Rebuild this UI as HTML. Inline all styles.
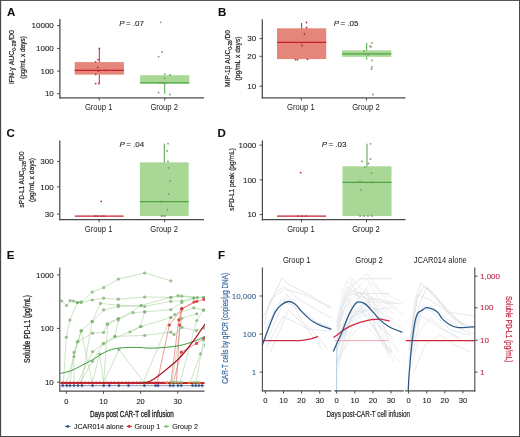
<!DOCTYPE html>
<html><head><meta charset="utf-8"><style>
html,body{margin:0;padding:0;background:#fff;}
svg{display:block;will-change:transform;}
text{font-family:"Liberation Sans", sans-serif;}
</style></head><body>
<svg width="520" height="437" viewBox="0 0 520 437" font-family="&quot;Liberation Sans&quot;, sans-serif">
<rect x="0" y="0" width="520" height="437" fill="#fff"/>
<text x="6.90" y="16.10" font-size="11.5" text-anchor="start" fill="#111" stroke="#111" stroke-width="0.1" font-weight="bold" font-style="normal" >A</text>
<line x1="59.90" y1="19.10" x2="59.90" y2="98.50" stroke="#4a4a4a" stroke-width="1.25" />
<line x1="59.30" y1="97.90" x2="204.00" y2="97.90" stroke="#4a4a4a" stroke-width="1.25" />
<line x1="57.10" y1="25.60" x2="59.90" y2="25.60" stroke="#4a4a4a" stroke-width="1" />
<text x="53.80" y="28.35" font-size="8.0" text-anchor="end" fill="#222" stroke="#222" stroke-width="0.1" font-weight="normal" font-style="normal" >10000</text>
<line x1="57.10" y1="48.40" x2="59.90" y2="48.40" stroke="#4a4a4a" stroke-width="1" />
<text x="53.80" y="51.15" font-size="8.0" text-anchor="end" fill="#222" stroke="#222" stroke-width="0.1" font-weight="normal" font-style="normal" >1000</text>
<line x1="57.10" y1="71.10" x2="59.90" y2="71.10" stroke="#4a4a4a" stroke-width="1" />
<text x="53.80" y="73.85" font-size="8.0" text-anchor="end" fill="#222" stroke="#222" stroke-width="0.1" font-weight="normal" font-style="normal" >100</text>
<line x1="57.10" y1="93.70" x2="59.90" y2="93.70" stroke="#4a4a4a" stroke-width="1" />
<text x="53.80" y="96.45" font-size="8.0" text-anchor="end" fill="#222" stroke="#222" stroke-width="0.1" font-weight="normal" font-style="normal" >10</text>
<line x1="99.20" y1="97.90" x2="99.20" y2="100.50" stroke="#4a4a4a" stroke-width="1" />
<text x="98.70" y="110.10" font-size="8.3" text-anchor="middle" fill="#222" stroke="#222" stroke-width="0" font-weight="normal" font-style="normal" textLength="27.6" lengthAdjust="spacingAndGlyphs" >Group 1</text>
<line x1="164.70" y1="97.90" x2="164.70" y2="100.50" stroke="#4a4a4a" stroke-width="1" />
<text x="164.20" y="110.10" font-size="8.3" text-anchor="middle" fill="#222" stroke="#222" stroke-width="0" font-weight="normal" font-style="normal" textLength="27.6" lengthAdjust="spacingAndGlyphs" >Group 2</text>
<text x="119.20" y="26.00" font-size="8.0" text-anchor="start" fill="#222" stroke="#222" stroke-width="0.1" font-weight="normal" font-style="italic" >P</text>
<text x="125.90" y="26.00" font-size="8.0" text-anchor="start" fill="#222" stroke="#222" stroke-width="0.1" font-weight="normal" font-style="normal" >= .07</text>
<text transform="translate(14.20,57.10) rotate(-90)" x="0" y="0" font-size="8.1" text-anchor="middle" fill="#222" stroke="#222" stroke-width="0.2" textLength="54" lengthAdjust="spacingAndGlyphs">IFN-γ AUC<tspan font-size="5.83" dy="1.6">0-28</tspan><tspan dy="-1.6">/D0</tspan></text>
<text transform="translate(25.00,57.40) rotate(-90)" x="0" y="0" font-size="7.9" text-anchor="middle" fill="#222" stroke="#222" stroke-width="0.2" font-weight="normal" textLength="42.6" lengthAdjust="spacingAndGlyphs">(pg/mL x days)</text>
<line x1="99.30" y1="48.10" x2="99.30" y2="83.80" stroke="#C8232C" stroke-width="1" />
<rect x="74.70" y="62.10" width="49.20" height="12.50" fill="#E4867A"/>
<line x1="74.70" y1="70.30" x2="123.90" y2="70.30" stroke="#C8232C" stroke-width="1.2" />
<circle cx="99.40" cy="48.30" r="0.9" fill="#B8262E" fill-opacity="0.9"/>
<circle cx="98.00" cy="59.60" r="0.9" fill="#B8262E" fill-opacity="0.9"/>
<circle cx="95.60" cy="61.90" r="0.9" fill="#B8262E" fill-opacity="0.9"/>
<circle cx="97.70" cy="67.50" r="0.9" fill="#B8262E" fill-opacity="0.9"/>
<circle cx="98.30" cy="71.10" r="0.9" fill="#B8262E" fill-opacity="0.9"/>
<circle cx="105.80" cy="70.30" r="0.9" fill="#B8262E" fill-opacity="0.9"/>
<circle cx="95.60" cy="74.40" r="0.9" fill="#B8262E" fill-opacity="0.9"/>
<circle cx="95.60" cy="83.60" r="0.9" fill="#B8262E" fill-opacity="0.9"/>
<circle cx="98.80" cy="83.60" r="0.9" fill="#B8262E" fill-opacity="0.9"/>
<line x1="164.70" y1="75.20" x2="164.70" y2="93.80" stroke="#4CA545" stroke-width="1" />
<rect x="140.10" y="75.20" width="49.20" height="8.30" fill="#A9D795"/>
<line x1="140.10" y1="82.90" x2="189.30" y2="82.90" stroke="#4CA545" stroke-width="1.2" />
<circle cx="160.70" cy="22.30" r="0.9" fill="#6f9b62" fill-opacity="0.9"/>
<circle cx="162.00" cy="52.00" r="0.9" fill="#6f9b62" fill-opacity="0.9"/>
<circle cx="158.60" cy="56.70" r="0.9" fill="#6f9b62" fill-opacity="0.9"/>
<circle cx="165.00" cy="73.80" r="0.9" fill="#6f9b62" fill-opacity="0.9"/>
<circle cx="170.00" cy="75.00" r="0.9" fill="#6f9b62" fill-opacity="0.9"/>
<circle cx="164.50" cy="78.30" r="0.9" fill="#6f9b62" fill-opacity="0.9"/>
<circle cx="158.60" cy="92.50" r="0.9" fill="#6f9b62" fill-opacity="0.9"/>
<circle cx="170.00" cy="94.50" r="0.9" fill="#6f9b62" fill-opacity="0.9"/>
<circle cx="160.00" cy="83.00" r="0.9" fill="#6f9b62" fill-opacity="0.9"/>
<circle cx="163.00" cy="83.00" r="0.9" fill="#6f9b62" fill-opacity="0.9"/>
<circle cx="166.00" cy="83.00" r="0.9" fill="#6f9b62" fill-opacity="0.9"/>
<text x="218.10" y="16.00" font-size="11.5" text-anchor="start" fill="#111" stroke="#111" stroke-width="0.1" font-weight="bold" font-style="normal" >B</text>
<line x1="262.30" y1="19.20" x2="262.30" y2="98.50" stroke="#4a4a4a" stroke-width="1.25" />
<line x1="261.70" y1="97.90" x2="405.50" y2="97.90" stroke="#4a4a4a" stroke-width="1.25" />
<line x1="259.50" y1="38.60" x2="262.30" y2="38.60" stroke="#4a4a4a" stroke-width="1" />
<text x="256.20" y="41.35" font-size="8.0" text-anchor="end" fill="#222" stroke="#222" stroke-width="0.1" font-weight="normal" font-style="normal" >30</text>
<line x1="259.50" y1="56.30" x2="262.30" y2="56.30" stroke="#4a4a4a" stroke-width="1" />
<text x="256.20" y="59.05" font-size="8.0" text-anchor="end" fill="#222" stroke="#222" stroke-width="0.1" font-weight="normal" font-style="normal" >20</text>
<line x1="259.50" y1="86.20" x2="262.30" y2="86.20" stroke="#4a4a4a" stroke-width="1" />
<text x="256.20" y="88.95" font-size="8.0" text-anchor="end" fill="#222" stroke="#222" stroke-width="0.1" font-weight="normal" font-style="normal" >10</text>
<line x1="301.35" y1="97.90" x2="301.35" y2="100.50" stroke="#4a4a4a" stroke-width="1" />
<text x="300.85" y="110.10" font-size="8.3" text-anchor="middle" fill="#222" stroke="#222" stroke-width="0" font-weight="normal" font-style="normal" textLength="27.6" lengthAdjust="spacingAndGlyphs" >Group 1</text>
<line x1="366.45" y1="97.90" x2="366.45" y2="100.50" stroke="#4a4a4a" stroke-width="1" />
<text x="365.95" y="110.10" font-size="8.3" text-anchor="middle" fill="#222" stroke="#222" stroke-width="0" font-weight="normal" font-style="normal" textLength="27.6" lengthAdjust="spacingAndGlyphs" >Group 2</text>
<text x="333.80" y="26.10" font-size="8.0" text-anchor="start" fill="#222" stroke="#222" stroke-width="0.1" font-weight="normal" font-style="italic" >P</text>
<text x="340.50" y="26.10" font-size="8.0" text-anchor="start" fill="#222" stroke="#222" stroke-width="0.1" font-weight="normal" font-style="normal" >= .05</text>
<text transform="translate(229.90,58.50) rotate(-90)" x="0" y="0" font-size="8.1" text-anchor="middle" fill="#222" stroke="#222" stroke-width="0.2" textLength="57" lengthAdjust="spacingAndGlyphs">MIP-1β AUC<tspan font-size="5.83" dy="1.6">0-28</tspan><tspan dy="-1.6">/D0</tspan></text>
<text transform="translate(240.30,58.50) rotate(-90)" x="0" y="0" font-size="7.9" text-anchor="middle" fill="#222" stroke="#222" stroke-width="0.2" font-weight="normal" textLength="44" lengthAdjust="spacingAndGlyphs">(pg/mL x days)</text>
<line x1="301.60" y1="23.00" x2="301.60" y2="59.10" stroke="#C8232C" stroke-width="1" />
<rect x="277.00" y="28.30" width="49.20" height="30.80" fill="#E4867A"/>
<line x1="277.00" y1="42.40" x2="326.20" y2="42.40" stroke="#C8232C" stroke-width="1.2" />
<circle cx="306.50" cy="22.50" r="0.9" fill="#B8262E" fill-opacity="0.9"/>
<circle cx="306.50" cy="27.50" r="0.9" fill="#B8262E" fill-opacity="0.9"/>
<circle cx="304.50" cy="34.00" r="0.9" fill="#B8262E" fill-opacity="0.9"/>
<circle cx="301.70" cy="42.80" r="0.9" fill="#B8262E" fill-opacity="0.9"/>
<circle cx="302.00" cy="45.70" r="0.9" fill="#B8262E" fill-opacity="0.9"/>
<circle cx="295.50" cy="59.70" r="0.9" fill="#B8262E" fill-opacity="0.9"/>
<circle cx="297.50" cy="59.70" r="0.9" fill="#B8262E" fill-opacity="0.9"/>
<circle cx="307.50" cy="59.30" r="0.9" fill="#B8262E" fill-opacity="0.9"/>
<line x1="366.70" y1="42.90" x2="366.70" y2="59.60" stroke="#4CA545" stroke-width="1" />
<rect x="342.10" y="50.40" width="49.20" height="6.40" fill="#A9D795"/>
<line x1="342.10" y1="53.90" x2="391.30" y2="53.90" stroke="#4CA545" stroke-width="1.2" />
<circle cx="372.00" cy="43.00" r="0.9" fill="#6f9b62" fill-opacity="0.9"/>
<circle cx="370.00" cy="46.00" r="0.9" fill="#6f9b62" fill-opacity="0.9"/>
<circle cx="371.00" cy="47.00" r="0.9" fill="#6f9b62" fill-opacity="0.9"/>
<circle cx="364.00" cy="51.00" r="0.9" fill="#6f9b62" fill-opacity="0.9"/>
<circle cx="365.00" cy="54.00" r="0.9" fill="#6f9b62" fill-opacity="0.9"/>
<circle cx="368.00" cy="55.00" r="0.9" fill="#6f9b62" fill-opacity="0.9"/>
<circle cx="372.00" cy="60.50" r="0.9" fill="#6f9b62" fill-opacity="0.9"/>
<circle cx="371.50" cy="69.00" r="0.9" fill="#6f9b62" fill-opacity="0.9"/>
<circle cx="372.00" cy="67.00" r="0.9" fill="#6f9b62" fill-opacity="0.9"/>
<circle cx="373.00" cy="94.50" r="0.9" fill="#6f9b62" fill-opacity="0.9"/>
<text x="6.40" y="137.20" font-size="11.5" text-anchor="start" fill="#111" stroke="#111" stroke-width="0.1" font-weight="bold" font-style="normal" >C</text>
<line x1="59.80" y1="140.40" x2="59.80" y2="220.20" stroke="#4a4a4a" stroke-width="1.25" />
<line x1="59.20" y1="219.60" x2="204.00" y2="219.60" stroke="#4a4a4a" stroke-width="1.25" />
<line x1="57.00" y1="161.40" x2="59.80" y2="161.40" stroke="#4a4a4a" stroke-width="1" />
<text x="53.70" y="164.15" font-size="8.0" text-anchor="end" fill="#222" stroke="#222" stroke-width="0.1" font-weight="normal" font-style="normal" >300</text>
<line x1="57.00" y1="186.90" x2="59.80" y2="186.90" stroke="#4a4a4a" stroke-width="1" />
<text x="53.70" y="189.65" font-size="8.0" text-anchor="end" fill="#222" stroke="#222" stroke-width="0.1" font-weight="normal" font-style="normal" >100</text>
<line x1="57.00" y1="214.10" x2="59.80" y2="214.10" stroke="#4a4a4a" stroke-width="1" />
<text x="53.70" y="216.85" font-size="8.0" text-anchor="end" fill="#222" stroke="#222" stroke-width="0.1" font-weight="normal" font-style="normal" >30</text>
<line x1="99.13" y1="219.60" x2="99.13" y2="222.20" stroke="#4a4a4a" stroke-width="1" />
<text x="98.63" y="231.80" font-size="8.3" text-anchor="middle" fill="#222" stroke="#222" stroke-width="0" font-weight="normal" font-style="normal" textLength="27.6" lengthAdjust="spacingAndGlyphs" >Group 1</text>
<line x1="164.67" y1="219.60" x2="164.67" y2="222.20" stroke="#4a4a4a" stroke-width="1" />
<text x="164.17" y="231.80" font-size="8.3" text-anchor="middle" fill="#222" stroke="#222" stroke-width="0" font-weight="normal" font-style="normal" textLength="27.6" lengthAdjust="spacingAndGlyphs" >Group 2</text>
<text x="119.50" y="147.30" font-size="8.0" text-anchor="start" fill="#222" stroke="#222" stroke-width="0.1" font-weight="normal" font-style="italic" >P</text>
<text x="126.20" y="147.30" font-size="8.0" text-anchor="start" fill="#222" stroke="#222" stroke-width="0.1" font-weight="normal" font-style="normal" >= .04</text>
<text transform="translate(24.00,179.40) rotate(-90)" x="0" y="0" font-size="8.1" text-anchor="middle" fill="#222" stroke="#222" stroke-width="0.2" textLength="56" lengthAdjust="spacingAndGlyphs">sPD-L1 AUC<tspan font-size="5.83" dy="1.6">0-28</tspan><tspan dy="-1.6">/D0</tspan></text>
<text transform="translate(33.80,179.90) rotate(-90)" x="0" y="0" font-size="7.9" text-anchor="middle" fill="#222" stroke="#222" stroke-width="0.2" font-weight="normal" textLength="44" lengthAdjust="spacingAndGlyphs">(pg/mL x days)</text>
<line x1="74.80" y1="216.10" x2="123.60" y2="216.10" stroke="#C8232C" stroke-width="1.2" />
<circle cx="101.20" cy="201.30" r="0.9" fill="#B8262E" fill-opacity="0.9"/>
<circle cx="95.00" cy="216.10" r="0.9" fill="#B8262E" fill-opacity="0.9"/>
<circle cx="97.50" cy="216.10" r="0.9" fill="#B8262E" fill-opacity="0.9"/>
<circle cx="101.50" cy="216.10" r="0.9" fill="#B8262E" fill-opacity="0.9"/>
<circle cx="104.00" cy="216.10" r="0.9" fill="#B8262E" fill-opacity="0.9"/>
<line x1="164.30" y1="143.70" x2="164.30" y2="216.10" stroke="#4CA545" stroke-width="1" />
<rect x="139.90" y="162.40" width="48.80" height="53.70" fill="#A9D795"/>
<line x1="139.90" y1="201.70" x2="188.70" y2="201.70" stroke="#4CA545" stroke-width="1.2" />
<circle cx="168.00" cy="143.70" r="0.9" fill="#6f9b62" fill-opacity="0.9"/>
<circle cx="167.00" cy="151.00" r="0.9" fill="#6f9b62" fill-opacity="0.9"/>
<circle cx="168.00" cy="161.50" r="0.9" fill="#6f9b62" fill-opacity="0.9"/>
<circle cx="168.50" cy="168.00" r="0.9" fill="#6f9b62" fill-opacity="0.9"/>
<circle cx="170.00" cy="181.00" r="0.9" fill="#6f9b62" fill-opacity="0.9"/>
<circle cx="168.50" cy="194.00" r="0.9" fill="#6f9b62" fill-opacity="0.9"/>
<circle cx="161.00" cy="201.50" r="0.9" fill="#6f9b62" fill-opacity="0.9"/>
<circle cx="167.50" cy="210.00" r="0.9" fill="#6f9b62" fill-opacity="0.9"/>
<circle cx="161.50" cy="216.00" r="0.9" fill="#6f9b62" fill-opacity="0.9"/>
<circle cx="165.00" cy="216.00" r="0.9" fill="#6f9b62" fill-opacity="0.9"/>
<circle cx="163.00" cy="216.00" r="0.9" fill="#6f9b62" fill-opacity="0.9"/>
<text x="217.50" y="137.10" font-size="11.5" text-anchor="start" fill="#111" stroke="#111" stroke-width="0.1" font-weight="bold" font-style="normal" >D</text>
<line x1="262.40" y1="140.50" x2="262.40" y2="220.30" stroke="#4a4a4a" stroke-width="1.25" />
<line x1="261.80" y1="219.70" x2="405.50" y2="219.70" stroke="#4a4a4a" stroke-width="1.25" />
<line x1="259.60" y1="145.10" x2="262.40" y2="145.10" stroke="#4a4a4a" stroke-width="1" />
<text x="256.30" y="147.85" font-size="8.0" text-anchor="end" fill="#222" stroke="#222" stroke-width="0.1" font-weight="normal" font-style="normal" >1000</text>
<line x1="259.60" y1="179.80" x2="262.40" y2="179.80" stroke="#4a4a4a" stroke-width="1" />
<text x="256.30" y="182.55" font-size="8.0" text-anchor="end" fill="#222" stroke="#222" stroke-width="0.1" font-weight="normal" font-style="normal" >100</text>
<line x1="259.60" y1="214.60" x2="262.40" y2="214.60" stroke="#4a4a4a" stroke-width="1" />
<text x="256.30" y="217.35" font-size="8.0" text-anchor="end" fill="#222" stroke="#222" stroke-width="0.1" font-weight="normal" font-style="normal" >10</text>
<line x1="301.43" y1="219.70" x2="301.43" y2="222.30" stroke="#4a4a4a" stroke-width="1" />
<text x="300.93" y="231.90" font-size="8.3" text-anchor="middle" fill="#222" stroke="#222" stroke-width="0" font-weight="normal" font-style="normal" textLength="27.6" lengthAdjust="spacingAndGlyphs" >Group 1</text>
<line x1="366.47" y1="219.70" x2="366.47" y2="222.30" stroke="#4a4a4a" stroke-width="1" />
<text x="365.97" y="231.90" font-size="8.3" text-anchor="middle" fill="#222" stroke="#222" stroke-width="0" font-weight="normal" font-style="normal" textLength="27.6" lengthAdjust="spacingAndGlyphs" >Group 2</text>
<text x="321.70" y="147.40" font-size="8.0" text-anchor="start" fill="#222" stroke="#222" stroke-width="0.1" font-weight="normal" font-style="italic" >P</text>
<text x="328.40" y="147.40" font-size="8.0" text-anchor="start" fill="#222" stroke="#222" stroke-width="0.1" font-weight="normal" font-style="normal" >= .03</text>
<text transform="translate(233.60,179.40) rotate(-90)" x="0" y="0" font-size="8.1" text-anchor="middle" fill="#222" stroke="#222" stroke-width="0.2" font-weight="normal" textLength="62.5" lengthAdjust="spacingAndGlyphs">sPD-L1 peak (pg/mL)</text>
<line x1="277.00" y1="216.10" x2="326.20" y2="216.10" stroke="#C8232C" stroke-width="1.2" />
<circle cx="300.70" cy="172.70" r="0.9" fill="#B8262E" fill-opacity="0.9"/>
<circle cx="298.00" cy="216.10" r="0.9" fill="#B8262E" fill-opacity="0.9"/>
<circle cx="302.00" cy="216.10" r="0.9" fill="#B8262E" fill-opacity="0.9"/>
<circle cx="306.00" cy="216.10" r="0.9" fill="#B8262E" fill-opacity="0.9"/>
<line x1="367.00" y1="143.70" x2="367.00" y2="216.10" stroke="#4CA545" stroke-width="1" />
<rect x="342.50" y="166.30" width="49.00" height="49.80" fill="#A9D795"/>
<line x1="342.50" y1="182.30" x2="391.50" y2="182.30" stroke="#4CA545" stroke-width="1.2" />
<circle cx="370.50" cy="143.80" r="0.9" fill="#6f9b62" fill-opacity="0.9"/>
<circle cx="362.00" cy="161.50" r="0.9" fill="#6f9b62" fill-opacity="0.9"/>
<circle cx="370.50" cy="159.00" r="0.9" fill="#6f9b62" fill-opacity="0.9"/>
<circle cx="368.50" cy="163.50" r="0.9" fill="#6f9b62" fill-opacity="0.9"/>
<circle cx="365.00" cy="167.50" r="0.9" fill="#6f9b62" fill-opacity="0.9"/>
<circle cx="371.50" cy="173.00" r="0.9" fill="#6f9b62" fill-opacity="0.9"/>
<circle cx="360.00" cy="181.50" r="0.9" fill="#6f9b62" fill-opacity="0.9"/>
<circle cx="372.00" cy="182.50" r="0.9" fill="#6f9b62" fill-opacity="0.9"/>
<circle cx="361.00" cy="190.00" r="0.9" fill="#6f9b62" fill-opacity="0.9"/>
<circle cx="360.00" cy="216.00" r="0.9" fill="#6f9b62" fill-opacity="0.9"/>
<circle cx="364.00" cy="216.00" r="0.9" fill="#6f9b62" fill-opacity="0.9"/>
<circle cx="368.00" cy="216.00" r="0.9" fill="#6f9b62" fill-opacity="0.9"/>
<circle cx="372.00" cy="216.00" r="0.9" fill="#6f9b62" fill-opacity="0.9"/>
<text x="6.80" y="258.90" font-size="11.5" text-anchor="start" fill="#111" stroke="#111" stroke-width="0.1" font-weight="bold" font-style="normal" >E</text>
<line x1="57.00" y1="274.90" x2="59.80" y2="274.90" stroke="#4a4a4a" stroke-width="1" />
<text x="53.80" y="277.65" font-size="8.0" text-anchor="end" fill="#222" stroke="#222" stroke-width="0.1" font-weight="normal" font-style="normal" >1000</text>
<line x1="57.00" y1="328.40" x2="59.80" y2="328.40" stroke="#4a4a4a" stroke-width="1" />
<text x="53.80" y="331.15" font-size="8.0" text-anchor="end" fill="#222" stroke="#222" stroke-width="0.1" font-weight="normal" font-style="normal" >100</text>
<line x1="57.00" y1="382.20" x2="59.80" y2="382.20" stroke="#4a4a4a" stroke-width="1" />
<text x="53.80" y="384.95" font-size="8.0" text-anchor="end" fill="#222" stroke="#222" stroke-width="0.1" font-weight="normal" font-style="normal" >10</text>
<line x1="66.40" y1="391.10" x2="66.40" y2="393.70" stroke="#4a4a4a" stroke-width="1" />
<text x="66.40" y="403.80" font-size="7.5" text-anchor="middle" fill="#222" stroke="#222" stroke-width="0.1" font-weight="normal" font-style="normal" >0</text>
<line x1="103.50" y1="391.10" x2="103.50" y2="393.70" stroke="#4a4a4a" stroke-width="1" />
<text x="103.50" y="403.80" font-size="7.5" text-anchor="middle" fill="#222" stroke="#222" stroke-width="0.1" font-weight="normal" font-style="normal" >10</text>
<line x1="140.60" y1="391.10" x2="140.60" y2="393.70" stroke="#4a4a4a" stroke-width="1" />
<text x="140.60" y="403.80" font-size="7.5" text-anchor="middle" fill="#222" stroke="#222" stroke-width="0.1" font-weight="normal" font-style="normal" >20</text>
<line x1="177.70" y1="391.10" x2="177.70" y2="393.70" stroke="#4a4a4a" stroke-width="1" />
<text x="177.70" y="403.80" font-size="7.5" text-anchor="middle" fill="#222" stroke="#222" stroke-width="0.1" font-weight="normal" font-style="normal" >30</text>
<text x="131.90" y="416.60" font-size="9.0" text-anchor="middle" fill="#222" stroke="#222" stroke-width="0.32" font-weight="normal" font-style="normal" textLength="84.0" lengthAdjust="spacingAndGlyphs" >Days post CAR-T cell infusion</text>
<text transform="translate(29.90,329.00) rotate(-90)" x="0" y="0" font-size="8.6" text-anchor="middle" fill="#222" stroke="#222" stroke-width="0.25" font-weight="normal" textLength="68.0" lengthAdjust="spacingAndGlyphs">Soluble PD-L1 (pg/mL)</text>
<clipPath id="cpE"><rect x="60.3" y="267.4" width="144.7" height="123.10000000000005"/></clipPath>
<g clip-path="url(#cpE)">
<polyline points="77.30,302.50 81.10,302.20 92.20,292.10 103.70,287.70 118.30,279.10 144.70,273.00 170.80,280.80" fill="none" stroke="#9fcc92" stroke-width="0.7" stroke-opacity="0.75" stroke-linejoin="round" stroke-linecap="round" />
<polyline points="59.00,300.50 61.70,301.00 66.60,305.50 70.20,300.70 73.60,301.00 77.30,302.50 81.10,302.20 92.20,300.00 103.70,298.20 118.30,299.20 144.70,297.00 170.80,297.30 181.80,296.20 193.80,298.00 203.50,297.50" fill="none" stroke="#9fcc92" stroke-width="0.7" stroke-opacity="0.75" stroke-linejoin="round" stroke-linecap="round" />
<polyline points="63.50,382.60 66.30,337.20 69.90,320.00 77.30,302.50" fill="none" stroke="#9fcc92" stroke-width="0.7" stroke-opacity="0.75" stroke-linejoin="round" stroke-linecap="round" />
<polyline points="81.50,382.60 92.20,321.50 100.40,303.40 118.30,305.20 144.70,306.50 170.80,301.30 181.80,301.00 197.50,297.70" fill="none" stroke="#9fcc92" stroke-width="0.7" stroke-opacity="0.75" stroke-linejoin="round" stroke-linecap="round" />
<polyline points="92.20,321.50 103.70,309.90 118.30,306.60 141.20,305.50 170.80,297.30 178.00,295.70 203.50,297.50" fill="none" stroke="#9fcc92" stroke-width="0.7" stroke-opacity="0.75" stroke-linejoin="round" stroke-linecap="round" />
<polyline points="74.00,382.60 74.00,356.50 77.20,342.00 92.50,333.20 103.70,332.40 107.10,323.80 118.30,318.50 133.00,312.60 144.70,311.80 170.80,309.70 181.80,302.50 193.80,298.00" fill="none" stroke="#9fcc92" stroke-width="0.7" stroke-opacity="0.75" stroke-linejoin="round" stroke-linecap="round" />
<polyline points="70.00,382.60 74.00,352.40 78.00,341.20 81.20,330.80 92.20,321.50" fill="none" stroke="#9fcc92" stroke-width="0.7" stroke-opacity="0.75" stroke-linejoin="round" stroke-linecap="round" />
<polyline points="78.00,382.60 92.50,351.60 103.70,343.60 114.90,336.40 118.30,320.00 141.20,305.50" fill="none" stroke="#9fcc92" stroke-width="0.7" stroke-opacity="0.75" stroke-linejoin="round" stroke-linecap="round" />
<polyline points="80.00,382.60 92.50,361.30 103.40,343.50 141.20,326.50 170.80,317.50 174.70,314.50 193.80,307.80 203.50,310.00" fill="none" stroke="#9fcc92" stroke-width="0.7" stroke-opacity="0.75" stroke-linejoin="round" stroke-linecap="round" />
<polyline points="81.20,330.80 92.20,382.60 99.70,354.00 103.70,382.60 118.90,349.60 144.30,382.60" fill="none" stroke="#9fcc92" stroke-width="0.7" stroke-opacity="0.75" stroke-linejoin="round" stroke-linecap="round" />
<polyline points="103.70,382.60 107.70,324.40 118.30,318.50" fill="none" stroke="#9fcc92" stroke-width="0.7" stroke-opacity="0.75" stroke-linejoin="round" stroke-linecap="round" />
<polyline points="143.00,382.60 170.80,317.50" fill="none" stroke="#9fcc92" stroke-width="0.7" stroke-opacity="0.75" stroke-linejoin="round" stroke-linecap="round" />
<polyline points="172.00,382.60 181.80,318.30 196.80,313.80" fill="none" stroke="#9fcc92" stroke-width="0.7" stroke-opacity="0.75" stroke-linejoin="round" stroke-linecap="round" />
<polyline points="180.00,382.60 196.80,320.50 203.50,310.00" fill="none" stroke="#9fcc92" stroke-width="0.7" stroke-opacity="0.75" stroke-linejoin="round" stroke-linecap="round" />
<polyline points="190.00,382.60 200.50,353.80 205.00,345.00" fill="none" stroke="#9fcc92" stroke-width="0.7" stroke-opacity="0.75" stroke-linejoin="round" stroke-linecap="round" />
<polyline points="196.00,382.60 203.50,340.00" fill="none" stroke="#9fcc92" stroke-width="0.7" stroke-opacity="0.75" stroke-linejoin="round" stroke-linecap="round" />
<polyline points="114.90,336.40 144.70,335.40 170.90,332.20 174.00,334.60 182.00,327.40 196.50,330.60 204.00,328.00" fill="none" stroke="#9fcc92" stroke-width="0.7" stroke-opacity="0.75" stroke-linejoin="round" stroke-linecap="round" />
<polyline points="130.00,332.00 140.40,326.60 144.70,311.80" fill="none" stroke="#9fcc92" stroke-width="0.7" stroke-opacity="0.75" stroke-linejoin="round" stroke-linecap="round" />
<polyline points="66.40,382.60 81.20,330.80" fill="none" stroke="#9fcc92" stroke-width="0.7" stroke-opacity="0.75" stroke-linejoin="round" stroke-linecap="round" />
<polyline points="157.20,382.60 169.30,325.00 181.80,308.80 196.80,301.30 204.00,299.50" fill="none" stroke="#e0645f" stroke-width="0.75" stroke-opacity="0.85" stroke-linejoin="round" stroke-linecap="round" />
<polyline points="170.90,382.60 178.80,319.80 181.80,308.80" fill="none" stroke="#e0645f" stroke-width="0.75" stroke-opacity="0.85" stroke-linejoin="round" stroke-linecap="round" />
<polyline points="176.50,382.60 179.70,325.00 181.80,308.80 194.00,302.00" fill="none" stroke="#e0645f" stroke-width="0.75" stroke-opacity="0.85" stroke-linejoin="round" stroke-linecap="round" />
<polyline points="173.30,382.60 181.30,352.20 196.50,343.40 204.00,338.00" fill="none" stroke="#e0645f" stroke-width="0.75" stroke-opacity="0.85" stroke-linejoin="round" stroke-linecap="round" />
<circle cx="77.30" cy="302.50" r="1.6" fill="#82b277" fill-opacity="0.78"/>
<circle cx="81.10" cy="302.20" r="1.6" fill="#82b277" fill-opacity="0.78"/>
<circle cx="92.20" cy="292.10" r="1.6" fill="#82b277" fill-opacity="0.78"/>
<circle cx="103.70" cy="287.70" r="1.6" fill="#82b277" fill-opacity="0.78"/>
<circle cx="118.30" cy="279.10" r="1.6" fill="#82b277" fill-opacity="0.78"/>
<circle cx="144.70" cy="273.00" r="1.6" fill="#82b277" fill-opacity="0.78"/>
<circle cx="170.80" cy="280.80" r="1.6" fill="#82b277" fill-opacity="0.78"/>
<circle cx="59.00" cy="300.50" r="1.6" fill="#82b277" fill-opacity="0.78"/>
<circle cx="61.70" cy="301.00" r="1.6" fill="#82b277" fill-opacity="0.78"/>
<circle cx="66.60" cy="305.50" r="1.6" fill="#82b277" fill-opacity="0.78"/>
<circle cx="70.20" cy="300.70" r="1.6" fill="#82b277" fill-opacity="0.78"/>
<circle cx="73.60" cy="301.00" r="1.6" fill="#82b277" fill-opacity="0.78"/>
<circle cx="77.30" cy="302.50" r="1.6" fill="#82b277" fill-opacity="0.78"/>
<circle cx="81.10" cy="302.20" r="1.6" fill="#82b277" fill-opacity="0.78"/>
<circle cx="92.20" cy="300.00" r="1.6" fill="#82b277" fill-opacity="0.78"/>
<circle cx="103.70" cy="298.20" r="1.6" fill="#82b277" fill-opacity="0.78"/>
<circle cx="118.30" cy="299.20" r="1.6" fill="#82b277" fill-opacity="0.78"/>
<circle cx="144.70" cy="297.00" r="1.6" fill="#82b277" fill-opacity="0.78"/>
<circle cx="170.80" cy="297.30" r="1.6" fill="#82b277" fill-opacity="0.78"/>
<circle cx="181.80" cy="296.20" r="1.6" fill="#82b277" fill-opacity="0.78"/>
<circle cx="193.80" cy="298.00" r="1.6" fill="#82b277" fill-opacity="0.78"/>
<circle cx="203.50" cy="297.50" r="1.6" fill="#82b277" fill-opacity="0.78"/>
<circle cx="66.30" cy="337.20" r="1.6" fill="#82b277" fill-opacity="0.78"/>
<circle cx="69.90" cy="320.00" r="1.6" fill="#82b277" fill-opacity="0.78"/>
<circle cx="77.30" cy="302.50" r="1.6" fill="#82b277" fill-opacity="0.78"/>
<circle cx="92.20" cy="321.50" r="1.6" fill="#82b277" fill-opacity="0.78"/>
<circle cx="100.40" cy="303.40" r="1.6" fill="#82b277" fill-opacity="0.78"/>
<circle cx="118.30" cy="305.20" r="1.6" fill="#82b277" fill-opacity="0.78"/>
<circle cx="144.70" cy="306.50" r="1.6" fill="#82b277" fill-opacity="0.78"/>
<circle cx="170.80" cy="301.30" r="1.6" fill="#82b277" fill-opacity="0.78"/>
<circle cx="181.80" cy="301.00" r="1.6" fill="#82b277" fill-opacity="0.78"/>
<circle cx="197.50" cy="297.70" r="1.6" fill="#82b277" fill-opacity="0.78"/>
<circle cx="92.20" cy="321.50" r="1.6" fill="#82b277" fill-opacity="0.78"/>
<circle cx="103.70" cy="309.90" r="1.6" fill="#82b277" fill-opacity="0.78"/>
<circle cx="118.30" cy="306.60" r="1.6" fill="#82b277" fill-opacity="0.78"/>
<circle cx="141.20" cy="305.50" r="1.6" fill="#82b277" fill-opacity="0.78"/>
<circle cx="170.80" cy="297.30" r="1.6" fill="#82b277" fill-opacity="0.78"/>
<circle cx="178.00" cy="295.70" r="1.6" fill="#82b277" fill-opacity="0.78"/>
<circle cx="203.50" cy="297.50" r="1.6" fill="#82b277" fill-opacity="0.78"/>
<circle cx="74.00" cy="356.50" r="1.6" fill="#82b277" fill-opacity="0.78"/>
<circle cx="77.20" cy="342.00" r="1.6" fill="#82b277" fill-opacity="0.78"/>
<circle cx="92.50" cy="333.20" r="1.6" fill="#82b277" fill-opacity="0.78"/>
<circle cx="103.70" cy="332.40" r="1.6" fill="#82b277" fill-opacity="0.78"/>
<circle cx="107.10" cy="323.80" r="1.6" fill="#82b277" fill-opacity="0.78"/>
<circle cx="118.30" cy="318.50" r="1.6" fill="#82b277" fill-opacity="0.78"/>
<circle cx="133.00" cy="312.60" r="1.6" fill="#82b277" fill-opacity="0.78"/>
<circle cx="144.70" cy="311.80" r="1.6" fill="#82b277" fill-opacity="0.78"/>
<circle cx="170.80" cy="309.70" r="1.6" fill="#82b277" fill-opacity="0.78"/>
<circle cx="181.80" cy="302.50" r="1.6" fill="#82b277" fill-opacity="0.78"/>
<circle cx="193.80" cy="298.00" r="1.6" fill="#82b277" fill-opacity="0.78"/>
<circle cx="74.00" cy="352.40" r="1.6" fill="#82b277" fill-opacity="0.78"/>
<circle cx="78.00" cy="341.20" r="1.6" fill="#82b277" fill-opacity="0.78"/>
<circle cx="81.20" cy="330.80" r="1.6" fill="#82b277" fill-opacity="0.78"/>
<circle cx="92.20" cy="321.50" r="1.6" fill="#82b277" fill-opacity="0.78"/>
<circle cx="92.50" cy="351.60" r="1.6" fill="#82b277" fill-opacity="0.78"/>
<circle cx="103.70" cy="343.60" r="1.6" fill="#82b277" fill-opacity="0.78"/>
<circle cx="114.90" cy="336.40" r="1.6" fill="#82b277" fill-opacity="0.78"/>
<circle cx="118.30" cy="320.00" r="1.6" fill="#82b277" fill-opacity="0.78"/>
<circle cx="141.20" cy="305.50" r="1.6" fill="#82b277" fill-opacity="0.78"/>
<circle cx="92.50" cy="361.30" r="1.6" fill="#82b277" fill-opacity="0.78"/>
<circle cx="103.40" cy="343.50" r="1.6" fill="#82b277" fill-opacity="0.78"/>
<circle cx="141.20" cy="326.50" r="1.6" fill="#82b277" fill-opacity="0.78"/>
<circle cx="170.80" cy="317.50" r="1.6" fill="#82b277" fill-opacity="0.78"/>
<circle cx="174.70" cy="314.50" r="1.6" fill="#82b277" fill-opacity="0.78"/>
<circle cx="193.80" cy="307.80" r="1.6" fill="#82b277" fill-opacity="0.78"/>
<circle cx="203.50" cy="310.00" r="1.6" fill="#82b277" fill-opacity="0.78"/>
<circle cx="81.20" cy="330.80" r="1.6" fill="#82b277" fill-opacity="0.78"/>
<circle cx="99.70" cy="354.00" r="1.6" fill="#82b277" fill-opacity="0.78"/>
<circle cx="118.90" cy="349.60" r="1.6" fill="#82b277" fill-opacity="0.78"/>
<circle cx="107.70" cy="324.40" r="1.6" fill="#82b277" fill-opacity="0.78"/>
<circle cx="118.30" cy="318.50" r="1.6" fill="#82b277" fill-opacity="0.78"/>
<circle cx="170.80" cy="317.50" r="1.6" fill="#82b277" fill-opacity="0.78"/>
<circle cx="181.80" cy="318.30" r="1.6" fill="#82b277" fill-opacity="0.78"/>
<circle cx="196.80" cy="313.80" r="1.6" fill="#82b277" fill-opacity="0.78"/>
<circle cx="196.80" cy="320.50" r="1.6" fill="#82b277" fill-opacity="0.78"/>
<circle cx="203.50" cy="310.00" r="1.6" fill="#82b277" fill-opacity="0.78"/>
<circle cx="200.50" cy="353.80" r="1.6" fill="#82b277" fill-opacity="0.78"/>
<circle cx="205.00" cy="345.00" r="1.6" fill="#82b277" fill-opacity="0.78"/>
<circle cx="203.50" cy="340.00" r="1.6" fill="#82b277" fill-opacity="0.78"/>
<circle cx="114.90" cy="336.40" r="1.6" fill="#82b277" fill-opacity="0.78"/>
<circle cx="144.70" cy="335.40" r="1.6" fill="#82b277" fill-opacity="0.78"/>
<circle cx="170.90" cy="332.20" r="1.6" fill="#82b277" fill-opacity="0.78"/>
<circle cx="174.00" cy="334.60" r="1.6" fill="#82b277" fill-opacity="0.78"/>
<circle cx="182.00" cy="327.40" r="1.6" fill="#82b277" fill-opacity="0.78"/>
<circle cx="196.50" cy="330.60" r="1.6" fill="#82b277" fill-opacity="0.78"/>
<circle cx="204.00" cy="328.00" r="1.6" fill="#82b277" fill-opacity="0.78"/>
<circle cx="130.00" cy="332.00" r="1.6" fill="#82b277" fill-opacity="0.78"/>
<circle cx="140.40" cy="326.60" r="1.6" fill="#82b277" fill-opacity="0.78"/>
<circle cx="144.70" cy="311.80" r="1.6" fill="#82b277" fill-opacity="0.78"/>
<circle cx="81.20" cy="330.80" r="1.6" fill="#82b277" fill-opacity="0.78"/>
<circle cx="169.30" cy="325.00" r="1.6" fill="#d43a3a" fill-opacity="0.9"/>
<circle cx="181.80" cy="308.80" r="1.6" fill="#d43a3a" fill-opacity="0.9"/>
<circle cx="196.80" cy="301.30" r="1.6" fill="#d43a3a" fill-opacity="0.9"/>
<circle cx="204.00" cy="299.50" r="1.6" fill="#d43a3a" fill-opacity="0.9"/>
<circle cx="178.80" cy="319.80" r="1.6" fill="#d43a3a" fill-opacity="0.9"/>
<circle cx="181.80" cy="308.80" r="1.6" fill="#d43a3a" fill-opacity="0.9"/>
<circle cx="179.70" cy="325.00" r="1.6" fill="#d43a3a" fill-opacity="0.9"/>
<circle cx="181.80" cy="308.80" r="1.6" fill="#d43a3a" fill-opacity="0.9"/>
<circle cx="194.00" cy="302.00" r="1.6" fill="#d43a3a" fill-opacity="0.9"/>
<circle cx="181.30" cy="352.20" r="1.6" fill="#d43a3a" fill-opacity="0.9"/>
<circle cx="196.50" cy="343.40" r="1.6" fill="#d43a3a" fill-opacity="0.9"/>
<circle cx="204.00" cy="338.00" r="1.6" fill="#d43a3a" fill-opacity="0.9"/>
<rect x="59.8" y="386.6" width="144.7" height="2.2" fill="#f2f3fa"/>
<line x1="59.80" y1="385.60" x2="204.50" y2="385.60" stroke="#4a6a9a" stroke-width="0.7" />
<circle cx="62.80" cy="385.60" r="1.35" fill="#2b4e86" fill-opacity="0.95"/>
<circle cx="66.80" cy="385.60" r="1.35" fill="#2b4e86" fill-opacity="0.95"/>
<circle cx="70.00" cy="385.60" r="1.35" fill="#2b4e86" fill-opacity="0.95"/>
<circle cx="74.00" cy="385.60" r="1.35" fill="#2b4e86" fill-opacity="0.95"/>
<circle cx="78.00" cy="385.60" r="1.35" fill="#2b4e86" fill-opacity="0.95"/>
<circle cx="82.00" cy="385.60" r="1.35" fill="#2b4e86" fill-opacity="0.95"/>
<circle cx="92.50" cy="385.60" r="1.35" fill="#2b4e86" fill-opacity="0.95"/>
<circle cx="103.70" cy="385.60" r="1.35" fill="#2b4e86" fill-opacity="0.95"/>
<circle cx="109.30" cy="385.60" r="1.35" fill="#2b4e86" fill-opacity="0.95"/>
<circle cx="118.90" cy="385.60" r="1.35" fill="#2b4e86" fill-opacity="0.95"/>
<circle cx="128.50" cy="385.60" r="1.35" fill="#2b4e86" fill-opacity="0.95"/>
<circle cx="144.40" cy="385.60" r="1.35" fill="#2b4e86" fill-opacity="0.95"/>
<circle cx="155.60" cy="385.60" r="1.35" fill="#2b4e86" fill-opacity="0.95"/>
<circle cx="158.00" cy="385.60" r="1.35" fill="#2b4e86" fill-opacity="0.95"/>
<circle cx="170.00" cy="385.60" r="1.35" fill="#2b4e86" fill-opacity="0.95"/>
<circle cx="173.30" cy="385.60" r="1.35" fill="#2b4e86" fill-opacity="0.95"/>
<circle cx="178.00" cy="385.60" r="1.35" fill="#2b4e86" fill-opacity="0.95"/>
<circle cx="181.30" cy="385.60" r="1.35" fill="#2b4e86" fill-opacity="0.95"/>
<circle cx="192.50" cy="385.60" r="1.35" fill="#2b4e86" fill-opacity="0.95"/>
<circle cx="195.70" cy="385.60" r="1.35" fill="#2b4e86" fill-opacity="0.95"/>
<circle cx="198.90" cy="385.60" r="1.35" fill="#2b4e86" fill-opacity="0.95"/>
<circle cx="202.10" cy="385.60" r="1.35" fill="#2b4e86" fill-opacity="0.95"/>
<line x1="59.80" y1="383.00" x2="204.50" y2="383.00" stroke="#c8232c" stroke-width="2.0" />
<circle cx="62.69" cy="382.90" r="1.45" fill="#bf2a30" fill-opacity="0.9"/>
<circle cx="66.40" cy="382.90" r="1.45" fill="#bf2a30" fill-opacity="0.9"/>
<circle cx="70.11" cy="382.90" r="1.45" fill="#bf2a30" fill-opacity="0.9"/>
<circle cx="73.82" cy="382.90" r="1.45" fill="#bf2a30" fill-opacity="0.9"/>
<circle cx="77.53" cy="382.90" r="1.45" fill="#bf2a30" fill-opacity="0.9"/>
<circle cx="81.24" cy="382.90" r="1.45" fill="#bf2a30" fill-opacity="0.9"/>
<circle cx="84.95" cy="382.90" r="1.45" fill="#bf2a30" fill-opacity="0.9"/>
<circle cx="88.66" cy="382.90" r="1.45" fill="#bf2a30" fill-opacity="0.9"/>
<circle cx="92.37" cy="382.90" r="1.45" fill="#bf2a30" fill-opacity="0.9"/>
<circle cx="96.08" cy="382.90" r="1.45" fill="#bf2a30" fill-opacity="0.9"/>
<circle cx="99.79" cy="382.90" r="1.45" fill="#bf2a30" fill-opacity="0.9"/>
<circle cx="103.50" cy="382.90" r="1.45" fill="#bf2a30" fill-opacity="0.9"/>
<circle cx="107.21" cy="382.90" r="1.45" fill="#bf2a30" fill-opacity="0.9"/>
<circle cx="110.92" cy="382.90" r="1.45" fill="#bf2a30" fill-opacity="0.9"/>
<circle cx="114.63" cy="382.90" r="1.45" fill="#bf2a30" fill-opacity="0.9"/>
<circle cx="118.34" cy="382.90" r="1.45" fill="#bf2a30" fill-opacity="0.9"/>
<circle cx="122.05" cy="382.90" r="1.45" fill="#bf2a30" fill-opacity="0.9"/>
<circle cx="125.76" cy="382.90" r="1.45" fill="#bf2a30" fill-opacity="0.9"/>
<circle cx="129.47" cy="382.90" r="1.45" fill="#bf2a30" fill-opacity="0.9"/>
<circle cx="133.18" cy="382.90" r="1.45" fill="#bf2a30" fill-opacity="0.9"/>
<circle cx="136.89" cy="382.90" r="1.45" fill="#bf2a30" fill-opacity="0.9"/>
<circle cx="140.60" cy="382.90" r="1.45" fill="#bf2a30" fill-opacity="0.9"/>
<circle cx="144.31" cy="382.90" r="1.45" fill="#bf2a30" fill-opacity="0.9"/>
<circle cx="148.02" cy="382.90" r="1.45" fill="#bf2a30" fill-opacity="0.9"/>
<circle cx="151.73" cy="382.90" r="1.45" fill="#bf2a30" fill-opacity="0.9"/>
<circle cx="155.44" cy="382.90" r="1.45" fill="#bf2a30" fill-opacity="0.9"/>
<circle cx="159.15" cy="382.90" r="1.45" fill="#bf2a30" fill-opacity="0.9"/>
<circle cx="162.86" cy="382.90" r="1.45" fill="#bf2a30" fill-opacity="0.9"/>
<circle cx="166.57" cy="382.90" r="1.45" fill="#bf2a30" fill-opacity="0.9"/>
<circle cx="170.28" cy="382.90" r="1.45" fill="#bf2a30" fill-opacity="0.9"/>
<circle cx="141.00" cy="382.30" r="1.35" fill="#7fbf6a" fill-opacity="0.9"/>
<circle cx="145.00" cy="382.30" r="1.35" fill="#7fbf6a" fill-opacity="0.9"/>
<circle cx="171.70" cy="382.30" r="1.35" fill="#7fbf6a" fill-opacity="0.9"/>
<circle cx="175.00" cy="382.30" r="1.35" fill="#7fbf6a" fill-opacity="0.9"/>
<circle cx="178.00" cy="382.30" r="1.35" fill="#7fbf6a" fill-opacity="0.9"/>
<circle cx="181.30" cy="382.30" r="1.35" fill="#7fbf6a" fill-opacity="0.9"/>
<circle cx="194.00" cy="382.30" r="1.35" fill="#7fbf6a" fill-opacity="0.9"/>
<circle cx="197.30" cy="382.30" r="1.35" fill="#7fbf6a" fill-opacity="0.9"/>
<circle cx="166.90" cy="382.50" r="1.35" fill="#e39a4c" fill-opacity="0.9"/>
<circle cx="189.30" cy="382.50" r="1.35" fill="#e39a4c" fill-opacity="0.9"/>
<circle cx="199.70" cy="382.50" r="1.35" fill="#e39a4c" fill-opacity="0.9"/>
<path d="M60.00,373.50 C61.80,373.07 67.13,372.27 70.80,370.90 C74.47,369.53 78.38,367.17 82.00,365.30 C85.62,363.43 88.75,361.85 92.50,359.70 C96.25,357.55 100.92,354.20 104.50,352.40 C108.08,350.60 110.53,349.70 114.00,348.90 C117.47,348.10 120.97,347.83 125.30,347.60 C129.63,347.37 135.88,347.40 140.00,347.50 C144.12,347.60 145.83,348.22 150.00,348.20 C154.17,348.18 160.00,347.85 165.00,347.40 C170.00,346.95 175.00,346.57 180.00,345.50 C185.00,344.43 190.83,342.50 195.00,341.00 C199.17,339.50 203.33,337.25 205.00,336.50" fill="none" stroke="#3c9a3a" stroke-width="1.0" stroke-opacity="1" stroke-linecap="round"/>
<path d="M138.00,383.00 C139.33,382.93 143.33,383.27 146.00,382.60 C148.67,381.93 151.33,380.60 154.00,379.00 C156.67,377.40 159.33,375.08 162.00,373.00 C164.67,370.92 167.33,368.75 170.00,366.50 C172.67,364.25 175.33,362.17 178.00,359.50 C180.67,356.83 183.33,353.72 186.00,350.50 C188.67,347.28 191.67,343.37 194.00,340.20 C196.33,337.03 198.17,334.12 200.00,331.50 C201.83,328.88 204.17,325.67 205.00,324.50" fill="none" stroke="#b3182b" stroke-width="1.3" stroke-opacity="1" stroke-linecap="round"/>
</g>
<line x1="59.80" y1="267.40" x2="59.80" y2="391.60" stroke="#4a4a4a" stroke-width="1.1" />
<line x1="59.30" y1="391.10" x2="204.50" y2="391.10" stroke="#4a4a4a" stroke-width="1.1" />
<line x1="65.00" y1="426.40" x2="70.40" y2="426.40" stroke="#2b4e86" stroke-width="1.0" />
<circle cx="67.70" cy="426.40" r="1.3" fill="#2b4e86" fill-opacity="1"/>
<text x="73.90" y="428.80" font-size="7.8" text-anchor="start" fill="#222" stroke="#222" stroke-width="0.1" font-weight="normal" font-style="normal" textLength="49.8" lengthAdjust="spacingAndGlyphs" >JCAR014 alone</text>
<line x1="126.50" y1="426.40" x2="131.90" y2="426.40" stroke="#c8232c" stroke-width="1.0" />
<circle cx="129.20" cy="426.40" r="1.3" fill="#c8232c" fill-opacity="1"/>
<text x="134.60" y="428.80" font-size="7.8" text-anchor="start" fill="#222" stroke="#222" stroke-width="0.1" font-weight="normal" font-style="normal" textLength="25.7" lengthAdjust="spacingAndGlyphs" >Group 1</text>
<line x1="163.60" y1="426.40" x2="169.00" y2="426.40" stroke="#7fbf6a" stroke-width="1.0" />
<circle cx="166.30" cy="426.40" r="1.3" fill="#7fbf6a" fill-opacity="1"/>
<text x="172.20" y="428.80" font-size="7.8" text-anchor="start" fill="#222" stroke="#222" stroke-width="0.1" font-weight="normal" font-style="normal" textLength="25.7" lengthAdjust="spacingAndGlyphs" >Group 2</text>
<text x="218.00" y="258.80" font-size="11.5" text-anchor="start" fill="#111" stroke="#111" stroke-width="0.1" font-weight="bold" font-style="normal" >F</text>
<text x="296.70" y="262.80" font-size="8.3" text-anchor="middle" fill="#222" stroke="#222" stroke-width="0" font-weight="normal" font-style="normal" textLength="27.6" lengthAdjust="spacingAndGlyphs" >Group 1</text>
<text x="369.00" y="262.80" font-size="8.3" text-anchor="middle" fill="#222" stroke="#222" stroke-width="0" font-weight="normal" font-style="normal" textLength="27.6" lengthAdjust="spacingAndGlyphs" >Group 2</text>
<text x="440.25" y="262.80" font-size="8.3" text-anchor="middle" fill="#222" stroke="#222" stroke-width="0" font-weight="normal" font-style="normal" textLength="53.2" lengthAdjust="spacingAndGlyphs" >JCAR014 alone</text>
<polyline points="267.30,310.00 282.00,277.50 287.30,283.80 310.40,295.40 331.00,309.00" fill="none" stroke="#d9dadd" stroke-width="0.75" stroke-opacity="0.9" stroke-linejoin="round" stroke-linecap="round" />
<polyline points="264.00,325.00 270.40,299.60 285.20,289.00 304.00,294.30 331.00,307.00" fill="none" stroke="#dcdde0" stroke-width="0.75" stroke-opacity="0.9" stroke-linejoin="round" stroke-linecap="round" />
<polyline points="265.20,329.00 281.00,299.60 291.50,304.80 316.70,321.70 331.00,328.00" fill="none" stroke="#cddff1" stroke-width="0.75" stroke-opacity="0.9" stroke-linejoin="round" stroke-linecap="round" />
<polyline points="268.30,337.50 287.30,294.30 302.00,320.60 318.80,337.50 327.30,349.00" fill="none" stroke="#ecd8d4" stroke-width="0.75" stroke-opacity="0.9" stroke-linejoin="round" stroke-linecap="round" />
<polyline points="270.40,352.20 288.30,310.10 304.00,324.80 321.00,348.00" fill="none" stroke="#d9dadd" stroke-width="0.75" stroke-opacity="0.9" stroke-linejoin="round" stroke-linecap="round" />
<polyline points="266.20,348.00 283.00,316.40 308.30,329.00 331.00,331.20" fill="none" stroke="#cddff1" stroke-width="0.75" stroke-opacity="0.9" stroke-linejoin="round" stroke-linecap="round" />
<polyline points="263.00,318.00 276.00,292.00 284.00,287.00 300.00,300.00 331.00,318.00" fill="none" stroke="#cfe0f0" stroke-width="0.75" stroke-opacity="0.9" stroke-linejoin="round" stroke-linecap="round" />
<polyline points="336.93,325.84 342.34,305.69 347.98,286.90 366.63,303.93 394.43,341.61" fill="none" stroke="#dcdde2" stroke-width="0.7" stroke-opacity="0.75" stroke-linejoin="round" stroke-linecap="round" />
<polyline points="336.45,321.63 347.76,304.80 358.81,291.95 376.43,299.04 400.22,304.08" fill="none" stroke="#d5e2f0" stroke-width="0.7" stroke-opacity="0.75" stroke-linejoin="round" stroke-linecap="round" />
<polyline points="336.78,338.63 341.94,316.85 347.18,298.55 364.55,324.01 400.85,363.41" fill="none" stroke="#e6dedb" stroke-width="0.7" stroke-opacity="0.75" stroke-linejoin="round" stroke-linecap="round" />
<polyline points="337.30,327.40 351.05,318.13 365.41,309.54 373.45,319.46 391.17,336.97" fill="none" stroke="#dadce2" stroke-width="0.7" stroke-opacity="0.75" stroke-linejoin="round" stroke-linecap="round" />
<polyline points="336.80,340.23 350.23,312.96 363.77,303.30 376.53,309.18 392.78,319.05" fill="none" stroke="#dcdde2" stroke-width="0.7" stroke-opacity="0.75" stroke-linejoin="round" stroke-linecap="round" />
<polyline points="338.16,345.31 352.45,320.21 368.20,298.42 376.37,329.11 389.49,356.63" fill="none" stroke="#d5e2f0" stroke-width="0.7" stroke-opacity="0.75" stroke-linejoin="round" stroke-linecap="round" />
<polyline points="337.35,343.43 351.51,294.29 366.31,278.99 378.16,289.99 398.98,300.63" fill="none" stroke="#e6dedb" stroke-width="0.7" stroke-opacity="0.75" stroke-linejoin="round" stroke-linecap="round" />
<polyline points="337.15,348.15 354.15,314.02 371.60,299.34 381.26,314.26 402.57,328.57" fill="none" stroke="#dadce2" stroke-width="0.7" stroke-opacity="0.75" stroke-linejoin="round" stroke-linecap="round" />
<polyline points="337.54,369.64 345.60,335.25 354.51,301.77 369.00,319.74 391.44,353.07" fill="none" stroke="#dcdde2" stroke-width="0.7" stroke-opacity="0.75" stroke-linejoin="round" stroke-linecap="round" />
<polyline points="336.98,321.07 343.21,287.81 349.73,277.39 362.05,308.73 388.69,349.47" fill="none" stroke="#d5e2f0" stroke-width="0.7" stroke-opacity="0.75" stroke-linejoin="round" stroke-linecap="round" />
<polyline points="337.03,363.94 354.52,323.43 372.33,297.27 380.43,329.94 389.30,352.89" fill="none" stroke="#e6dedb" stroke-width="0.7" stroke-opacity="0.75" stroke-linejoin="round" stroke-linecap="round" />
<polyline points="337.38,327.16 344.81,299.25 352.93,278.94 365.11,293.67 393.42,313.54" fill="none" stroke="#dadce2" stroke-width="0.7" stroke-opacity="0.75" stroke-linejoin="round" stroke-linecap="round" />
<polyline points="337.44,347.45 351.85,306.36 367.00,288.99 375.40,330.51 394.02,361.86" fill="none" stroke="#dcdde2" stroke-width="0.7" stroke-opacity="0.75" stroke-linejoin="round" stroke-linecap="round" />
<polyline points="336.41,363.47 347.26,325.10 357.82,307.88 368.41,321.83 391.70,351.46" fill="none" stroke="#d5e2f0" stroke-width="0.7" stroke-opacity="0.75" stroke-linejoin="round" stroke-linecap="round" />
<polyline points="336.50,326.44 342.03,302.66 347.37,281.60 360.93,293.66 383.76,320.78" fill="none" stroke="#e6dedb" stroke-width="0.7" stroke-opacity="0.75" stroke-linejoin="round" stroke-linecap="round" />
<polyline points="336.93,349.93 345.11,329.69 353.51,312.22 370.97,309.67 390.68,307.95" fill="none" stroke="#dadce2" stroke-width="0.7" stroke-opacity="0.75" stroke-linejoin="round" stroke-linecap="round" />
<polyline points="336.73,343.16 342.80,305.93 348.89,293.44 362.75,296.60 390.58,303.75" fill="none" stroke="#dcdde2" stroke-width="0.7" stroke-opacity="0.75" stroke-linejoin="round" stroke-linecap="round" />
<polyline points="337.26,345.47 349.58,321.88 362.46,315.75 372.78,311.71 384.30,307.82" fill="none" stroke="#d5e2f0" stroke-width="0.7" stroke-opacity="0.75" stroke-linejoin="round" stroke-linecap="round" />
<polyline points="337.76,337.07 353.10,305.29 369.50,284.01 378.07,297.70 394.36,309.19" fill="none" stroke="#e6dedb" stroke-width="0.7" stroke-opacity="0.75" stroke-linejoin="round" stroke-linecap="round" />
<polyline points="336.65,362.34 353.82,332.83 370.93,317.31 381.16,328.02 398.49,352.01" fill="none" stroke="#dadce2" stroke-width="0.7" stroke-opacity="0.75" stroke-linejoin="round" stroke-linecap="round" />
<polyline points="337.09,332.53 351.88,286.25 367.06,273.29 384.85,297.96 402.80,315.36" fill="none" stroke="#dcdde2" stroke-width="0.7" stroke-opacity="0.75" stroke-linejoin="round" stroke-linecap="round" />
<polyline points="337.45,329.46 344.25,298.13 351.80,288.77 368.67,299.61 387.83,313.20" fill="none" stroke="#d5e2f0" stroke-width="0.7" stroke-opacity="0.75" stroke-linejoin="round" stroke-linecap="round" />
<polyline points="337.76,359.58 351.39,317.86 366.08,302.04 380.24,302.62 401.87,303.68" fill="none" stroke="#e6dedb" stroke-width="0.7" stroke-opacity="0.75" stroke-linejoin="round" stroke-linecap="round" />
<polyline points="337.00,335.29 356.17,314.13 375.65,308.30 382.76,323.52 391.64,351.66" fill="none" stroke="#dadce2" stroke-width="0.7" stroke-opacity="0.75" stroke-linejoin="round" stroke-linecap="round" />
<polyline points="409.00,350.00 415.00,300.00 421.00,283.00 428.00,290.00 440.00,303.00 455.00,320.00 470.00,330.00" fill="none" stroke="#d6d8dc" stroke-width="0.75" stroke-opacity="0.9" stroke-linejoin="round" stroke-linecap="round" />
<polyline points="410.00,345.00 417.00,298.00 424.00,286.00 432.00,292.00 445.00,307.00 460.00,322.00 474.00,328.00" fill="none" stroke="#d9dadd" stroke-width="0.75" stroke-opacity="0.9" stroke-linejoin="round" stroke-linecap="round" />
<polyline points="411.00,355.00 419.00,305.00 427.00,287.00 436.00,297.00 450.00,315.00 465.00,325.00" fill="none" stroke="#d6d8dc" stroke-width="0.75" stroke-opacity="0.9" stroke-linejoin="round" stroke-linecap="round" />
<polyline points="409.00,360.00 416.00,320.00 423.00,305.00 435.00,315.00 450.00,330.00 470.00,335.00" fill="none" stroke="#cddff1" stroke-width="0.75" stroke-opacity="0.9" stroke-linejoin="round" stroke-linecap="round" />
<polyline points="412.00,365.00 420.00,330.00 430.00,318.00 445.00,330.00 460.00,340.00 474.00,342.00" fill="none" stroke="#f0ddd0" stroke-width="0.75" stroke-opacity="0.9" stroke-linejoin="round" stroke-linecap="round" />
<polyline points="414.00,372.00 425.00,345.00 440.00,335.00 455.00,345.00 470.00,352.00" fill="none" stroke="#f0ddd0" stroke-width="0.75" stroke-opacity="0.9" stroke-linejoin="round" stroke-linecap="round" />
<polyline points="410.00,340.00 418.00,295.00 430.00,300.00 448.00,312.00 474.00,316.00" fill="none" stroke="#dcdde0" stroke-width="0.75" stroke-opacity="0.9" stroke-linejoin="round" stroke-linecap="round" />
<polyline points="409.00,365.00 414.00,330.00 420.00,315.00 440.00,328.00 460.00,338.00" fill="none" stroke="#d3e3f2" stroke-width="0.75" stroke-opacity="0.9" stroke-linejoin="round" stroke-linecap="round" />
<polyline points="413.00,352.00 421.00,312.00 431.00,306.00 446.00,318.00 462.00,330.00 474.00,334.00" fill="none" stroke="#dcdde0" stroke-width="0.75" stroke-opacity="0.9" stroke-linejoin="round" stroke-linecap="round" />
<line x1="336.80" y1="345.00" x2="336.50" y2="390.00" stroke="#a9c6e3" stroke-width="0.9" />
<line x1="355.00" y1="293.40" x2="390.00" y2="293.40" stroke="#dcdcdc" stroke-width="0.7" />
<line x1="360.00" y1="278.70" x2="392.00" y2="278.70" stroke="#dcdcdc" stroke-width="0.7" />
<path d="M262.60,340.60 C265.50,340.60 274.60,340.60 280.00,340.60 C285.40,340.60 291.33,340.65 295.00,340.60 C298.67,340.55 299.50,340.53 302.00,340.30 C304.50,340.07 307.40,339.80 310.00,339.20 C312.60,338.60 316.33,337.12 317.60,336.70" fill="none" stroke="#d0293f" stroke-width="1.25" stroke-opacity="1" stroke-linecap="round"/>
<line x1="334.70" y1="340.60" x2="388.00" y2="340.60" stroke="#f0a8ae" stroke-width="1.0" />
<path d="M333.90,337.30 C334.75,336.67 337.15,334.87 339.00,333.50 C340.85,332.13 342.83,330.45 345.00,329.10 C347.17,327.75 349.50,326.53 352.00,325.40 C354.50,324.27 357.33,323.15 360.00,322.30 C362.67,321.45 365.50,320.78 368.00,320.30 C370.50,319.82 372.67,319.57 375.00,319.40 C377.33,319.23 379.62,319.03 382.00,319.30 C384.38,319.57 388.08,320.72 389.30,321.00" fill="none" stroke="#d0293f" stroke-width="1.25" stroke-opacity="1" stroke-linecap="round"/>
<line x1="405.70" y1="340.60" x2="474.70" y2="340.60" stroke="#d0293f" stroke-width="1.25" />
<path d="M262.50,344.70 C263.70,341.45 267.53,330.72 269.70,325.20 C271.87,319.68 273.55,315.00 275.50,311.60 C277.45,308.20 279.28,306.48 281.40,304.80 C283.52,303.12 285.93,301.65 288.20,301.50 C290.47,301.35 292.58,302.05 295.00,303.90 C297.42,305.75 299.78,309.70 302.70,312.60 C305.62,315.50 309.25,319.03 312.50,321.30 C315.75,323.57 319.12,324.90 322.20,326.20 C325.28,327.50 329.53,328.62 331.00,329.10" fill="none" stroke="#2c5a88" stroke-width="1.3" stroke-opacity="1" stroke-linecap="round"/>
<path d="M333.50,351.00 C334.17,349.50 336.13,345.00 337.50,342.00 C338.87,339.00 340.37,336.17 341.70,333.00 C343.03,329.83 344.22,326.23 345.50,323.00 C346.78,319.77 347.77,316.78 349.40,313.60 C351.03,310.42 353.68,305.85 355.30,303.90 C356.92,301.95 357.48,301.90 359.10,301.90 C360.72,301.90 362.73,302.28 365.00,303.90 C367.27,305.52 370.12,308.85 372.70,311.60 C375.28,314.35 377.90,317.97 380.50,320.40 C383.10,322.83 385.88,324.68 388.30,326.20 C390.72,327.72 392.73,328.53 395.00,329.50 C397.27,330.47 400.75,331.58 401.90,332.00" fill="none" stroke="#2c5a88" stroke-width="1.3" stroke-opacity="1" stroke-linecap="round"/>
<path d="M408.30,390.00 C408.38,388.17 408.52,383.33 408.80,379.00 C409.08,374.67 409.52,369.67 410.00,364.00 C410.48,358.33 410.93,351.78 411.70,345.00 C412.47,338.22 413.63,328.53 414.60,323.30 C415.57,318.07 416.37,315.70 417.50,313.60 C418.63,311.50 419.93,311.68 421.40,310.70 C422.87,309.72 424.35,307.93 426.30,307.70 C428.25,307.47 431.15,308.48 433.10,309.30 C435.05,310.12 436.38,310.92 438.00,312.60 C439.62,314.28 440.70,317.30 442.80,319.40 C444.90,321.50 448.02,323.83 450.60,325.20 C453.18,326.57 455.73,327.23 458.30,327.60 C460.87,327.97 463.30,327.53 466.00,327.40 C468.70,327.27 473.08,326.90 474.50,326.80" fill="none" stroke="#2c5a88" stroke-width="1.3" stroke-opacity="1" stroke-linecap="round"/>
<line x1="262.40" y1="267.40" x2="262.40" y2="391.40" stroke="#4a4a4a" stroke-width="1.1" />
<line x1="474.80" y1="267.40" x2="474.80" y2="391.40" stroke="#4a4a4a" stroke-width="1.1" />
<line x1="261.90" y1="390.90" x2="331.50" y2="390.90" stroke="#4a4a4a" stroke-width="1.1" />
<line x1="265.40" y1="390.90" x2="265.40" y2="393.50" stroke="#4a4a4a" stroke-width="1" />
<text x="265.40" y="403.10" font-size="7.6" text-anchor="middle" fill="#222" stroke="#222" stroke-width="0.1" font-weight="normal" font-style="normal" >0</text>
<line x1="283.50" y1="390.90" x2="283.50" y2="393.50" stroke="#4a4a4a" stroke-width="1" />
<text x="283.50" y="403.10" font-size="7.6" text-anchor="middle" fill="#222" stroke="#222" stroke-width="0.1" font-weight="normal" font-style="normal" >10</text>
<line x1="301.60" y1="390.90" x2="301.60" y2="393.50" stroke="#4a4a4a" stroke-width="1" />
<text x="301.60" y="403.10" font-size="7.6" text-anchor="middle" fill="#222" stroke="#222" stroke-width="0.1" font-weight="normal" font-style="normal" >20</text>
<line x1="319.70" y1="390.90" x2="319.70" y2="393.50" stroke="#4a4a4a" stroke-width="1" />
<text x="319.70" y="403.10" font-size="7.6" text-anchor="middle" fill="#222" stroke="#222" stroke-width="0.1" font-weight="normal" font-style="normal" >30</text>
<line x1="334.20" y1="390.90" x2="403.80" y2="390.90" stroke="#4a4a4a" stroke-width="1.1" />
<line x1="336.70" y1="390.90" x2="336.70" y2="393.50" stroke="#4a4a4a" stroke-width="1" />
<text x="336.70" y="403.10" font-size="7.6" text-anchor="middle" fill="#222" stroke="#222" stroke-width="0.1" font-weight="normal" font-style="normal" >0</text>
<line x1="354.80" y1="390.90" x2="354.80" y2="393.50" stroke="#4a4a4a" stroke-width="1" />
<text x="354.80" y="403.10" font-size="7.6" text-anchor="middle" fill="#222" stroke="#222" stroke-width="0.1" font-weight="normal" font-style="normal" >10</text>
<line x1="372.90" y1="390.90" x2="372.90" y2="393.50" stroke="#4a4a4a" stroke-width="1" />
<text x="372.90" y="403.10" font-size="7.6" text-anchor="middle" fill="#222" stroke="#222" stroke-width="0.1" font-weight="normal" font-style="normal" >20</text>
<line x1="391.00" y1="390.90" x2="391.00" y2="393.50" stroke="#4a4a4a" stroke-width="1" />
<text x="391.00" y="403.10" font-size="7.6" text-anchor="middle" fill="#222" stroke="#222" stroke-width="0.1" font-weight="normal" font-style="normal" >30</text>
<line x1="405.20" y1="390.90" x2="475.30" y2="390.90" stroke="#4a4a4a" stroke-width="1.1" />
<line x1="408.60" y1="390.90" x2="408.60" y2="393.50" stroke="#4a4a4a" stroke-width="1" />
<text x="408.60" y="403.10" font-size="7.6" text-anchor="middle" fill="#222" stroke="#222" stroke-width="0.1" font-weight="normal" font-style="normal" >0</text>
<line x1="426.70" y1="390.90" x2="426.70" y2="393.50" stroke="#4a4a4a" stroke-width="1" />
<text x="426.70" y="403.10" font-size="7.6" text-anchor="middle" fill="#222" stroke="#222" stroke-width="0.1" font-weight="normal" font-style="normal" >10</text>
<line x1="444.80" y1="390.90" x2="444.80" y2="393.50" stroke="#4a4a4a" stroke-width="1" />
<text x="444.80" y="403.10" font-size="7.6" text-anchor="middle" fill="#222" stroke="#222" stroke-width="0.1" font-weight="normal" font-style="normal" >20</text>
<line x1="462.90" y1="390.90" x2="462.90" y2="393.50" stroke="#4a4a4a" stroke-width="1" />
<text x="462.90" y="403.10" font-size="7.6" text-anchor="middle" fill="#222" stroke="#222" stroke-width="0.1" font-weight="normal" font-style="normal" >30</text>
<line x1="259.60" y1="296.00" x2="262.40" y2="296.00" stroke="#4a4a4a" stroke-width="1" />
<text x="256.20" y="298.60" font-size="8.0" text-anchor="end" fill="#3d6592" stroke="#3d6592" stroke-width="0.1" font-weight="normal" font-style="normal" >10,000</text>
<line x1="259.60" y1="334.10" x2="262.40" y2="334.10" stroke="#4a4a4a" stroke-width="1" />
<text x="256.20" y="336.70" font-size="8.0" text-anchor="end" fill="#3d6592" stroke="#3d6592" stroke-width="0.1" font-weight="normal" font-style="normal" >100</text>
<line x1="259.60" y1="372.10" x2="262.40" y2="372.10" stroke="#4a4a4a" stroke-width="1" />
<text x="256.20" y="374.70" font-size="8.0" text-anchor="end" fill="#3d6592" stroke="#3d6592" stroke-width="0.1" font-weight="normal" font-style="normal" >1</text>
<line x1="474.80" y1="276.20" x2="477.60" y2="276.20" stroke="#4a4a4a" stroke-width="1" />
<text x="480.00" y="278.80" font-size="8.0" text-anchor="start" fill="#b8294a" stroke="#b8294a" stroke-width="0.1" font-weight="normal" font-style="normal" >1,000</text>
<line x1="474.80" y1="307.80" x2="477.60" y2="307.80" stroke="#4a4a4a" stroke-width="1" />
<text x="480.00" y="310.40" font-size="8.0" text-anchor="start" fill="#b8294a" stroke="#b8294a" stroke-width="0.1" font-weight="normal" font-style="normal" >100</text>
<line x1="474.80" y1="340.30" x2="477.60" y2="340.30" stroke="#4a4a4a" stroke-width="1" />
<text x="480.00" y="342.90" font-size="8.0" text-anchor="start" fill="#b8294a" stroke="#b8294a" stroke-width="0.1" font-weight="normal" font-style="normal" >10</text>
<line x1="474.80" y1="372.10" x2="477.60" y2="372.10" stroke="#4a4a4a" stroke-width="1" />
<text x="480.00" y="374.70" font-size="8.0" text-anchor="start" fill="#b8294a" stroke="#b8294a" stroke-width="0.1" font-weight="normal" font-style="normal" >1</text>
<text transform="translate(227.80,328.30) rotate(-90)" x="0" y="0" font-size="8.6" text-anchor="middle" fill="#3f6da3" stroke="#3f6da3" stroke-width="0.22" font-weight="normal" textLength="111.0" lengthAdjust="spacingAndGlyphs">CAR-T cells by qPCR (copies/μg DNA)</text>
<text transform="translate(506.00,329.20) rotate(90)" x="0" y="0" font-size="8.6" text-anchor="middle" fill="#c0283f" stroke="#c0283f" stroke-width="0.22" font-weight="normal" textLength="66.5" lengthAdjust="spacingAndGlyphs">Soluble PD-L1 (pg/mL)</text>
<text x="368.30" y="416.80" font-size="9.0" text-anchor="middle" fill="#222" stroke="#222" stroke-width="0.2" font-weight="normal" font-style="normal" textLength="83.6" lengthAdjust="spacingAndGlyphs" >Days post-CAR-T cell infusion</text>
<rect x="0" y="0" width="520" height="1" fill="#555"/><rect x="0" y="0" width="1.15" height="437" fill="#484848"/><rect x="519" y="0" width="1" height="437" fill="#484848"/><rect x="0" y="436" width="520" height="1" fill="#484848"/>
</svg>
</body></html>
